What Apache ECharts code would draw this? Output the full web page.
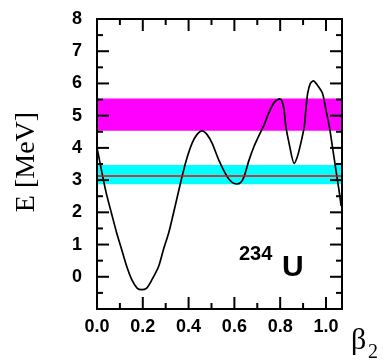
<!DOCTYPE html>
<html>
<head>
<meta charset="utf-8">
<script src="https://cdn.jsdelivr.net/npm/echarts@6/dist/echarts.min.js"></script>
<style>
  html, body { margin: 0; padding: 0; background: #ffffff; }
  #chart { width: 390px; height: 363px; }
</style>
</head>
<body>
<div id="chart"></div>
<script>
// Deformation parameter beta_2 and potential energy E (MeV) of 234U
const beta2 = [0.0, 0.01, 0.028, 0.042, 0.064, 0.086, 0.108, 0.13, 0.152, 0.175, 0.195, 0.217, 0.24, 0.269, 0.29, 0.313, 0.327, 0.35, 0.371, 0.39, 0.415, 0.437, 0.459, 0.48, 0.503, 0.532, 0.569, 0.59, 0.61, 0.628, 0.642, 0.664, 0.686, 0.705, 0.73, 0.751, 0.775, 0.798, 0.808, 0.817, 0.825, 0.839, 0.861, 0.876, 0.89, 0.905, 0.912, 0.92, 0.932, 0.945, 0.962, 0.985, 1.0, 1.015, 1.026, 1.037, 1.048, 1.059, 1.066];
const energy = [4.0, 3.65, 3.0, 2.55, 1.95, 1.36, 0.84, 0.32, -0.09, -0.35, -0.4, -0.35, -0.09, 0.32, 0.84, 1.36, 1.76, 2.46, 3.1, 3.62, 4.14, 4.42, 4.53, 4.42, 4.14, 3.62, 3.1, 2.93, 2.88, 2.93, 3.1, 3.62, 4.05, 4.35, 4.72, 5.1, 5.42, 5.52, 5.45, 5.17, 4.65, 4.14, 3.52, 3.75, 4.14, 4.65, 5.17, 5.69, 6.0, 6.08, 5.95, 5.69, 5.17, 4.65, 4.14, 3.62, 3.1, 2.59, 2.2];

// Energy bands and reference level (MeV)
const magentaBand = [4.53, 5.53];
const cyanBand = [2.87, 3.47];
const redLevel = [3.13];

// Axis ranges, tick positions and tick labels
const xRange = [0, 1.07];
const yRange = [-1, 8];
const xMajorTicks = [0.2, 0.4, 0.6, 0.8, 1.0];
const xMinorTicks = [0.1, 0.3, 0.5, 0.7, 0.9];
const yMajorTicks = [0, 1, 2, 3, 4, 5, 6, 7];
const yMinorTicks = [-0.5, 0.5, 1.5, 2.5, 3.5, 4.5, 5.5, 6.5, 7.5];
const xTickLabels = ['0.0', '0.2', '0.4', '0.6', '0.8', '1.0'];
const yTickLabels = ['0', '1', '2', '3', '4', '5', '6', '7', '8'];

const curve = beta2.map((b, i) => [b, energy[i]]);

const chart = echarts.init(document.getElementById('chart'), null, { renderer: 'canvas' });

const black = '#000000';
const labelFont = { color: black, fontFamily: 'Liberation Sans, Arial, sans-serif', fontWeight: 'bold', fontSize: 18 };

function xLabel(v) {
  const k = Math.round(v / 0.2);
  return Math.abs(v - k * 0.2) < 1e-6 ? (xTickLabels[k] || '') : '';
}
function yLabel(v) {
  const k = Math.round(v);
  return Math.abs(v - k) < 1e-6 && k >= 0 ? (yTickLabels[k] || '') : '';
}

const textGraphics = [
  { type: 'text', x: 27, y: 162, rotation: Math.PI / 2,
    style: { text: 'E [MeV]', font: '28px "Liberation Serif", "Times New Roman", serif', fill: black, align: 'center', verticalAlign: 'middle' } },
  { type: 'text', x: 351, y: 356,
    style: { text: 'β', font: '30px "Liberation Serif", "Times New Roman", serif', fill: black, align: 'left', verticalAlign: 'bottom' } },
  { type: 'text', x: 368, y: 363,
    style: { text: '2', font: '20px "Liberation Serif", "Times New Roman", serif', fill: black, align: 'left', verticalAlign: 'bottom' } },
  { type: 'text', x: 239, y: 264,
    style: { text: '234', font: 'bold 20px "Liberation Sans", Arial, sans-serif', fill: black, align: 'left', verticalAlign: 'bottom' } },
  { type: 'text', x: 282, y: 283,
    style: { text: 'U', font: 'bold 30px "Liberation Sans", Arial, sans-serif', fill: black, align: 'left', verticalAlign: 'bottom' } }
];

const option = {
  animation: false,
  backgroundColor: '#ffffff',
  grid: { show: false, left: 97, top: 19, width: 245, height: 290 },
  xAxis: {
    type: 'value', min: xRange[0], max: xRange[1], interval: 0.2,
    splitLine: { show: false }, axisLine: { show: false }, axisTick: { show: false },
    axisLabel: Object.assign({ show: true, margin: 9, formatter: xLabel }, labelFont)
  },
  yAxis: {
    type: 'value', min: yRange[0], max: yRange[1], interval: 1,
    splitLine: { show: false }, axisLine: { show: false }, axisTick: { show: false },
    axisLabel: Object.assign({ show: true, margin: 15, formatter: yLabel }, labelFont)
  },
  graphic: textGraphics,
  series: [
    {
      name: '234U', type: 'line', z: 3,
      data: curve, showSymbol: false, smooth: 0.25, clip: true,
      lineStyle: { color: black, width: 1.7 },
      markArea: {
        silent: true,
        label: { show: false },
        data: [
          [{ yAxis: magentaBand[0], itemStyle: { color: '#ff00ff' } }, { yAxis: magentaBand[1] }],
          [{ yAxis: cyanBand[0], itemStyle: { color: '#00ffff' } }, { yAxis: cyanBand[1] }]
        ]
      },
      markLine: {
        silent: true, symbol: 'none', label: { show: false },
        lineStyle: { color: '#ff0000', width: 1.5, type: 'solid' },
        data: [{ yAxis: redLevel[0] }]
      }
    }
  ]
};

chart.setOption(option);

// Frame and inward ticks as filled bars, placed through the grid's own scales
function toPx(x, y) { return chart.convertToPixel({ gridIndex: 0 }, [x, y]); }
function bar(x0, y0, x1, y1) {
  const l = Math.min(x0, x1), r = Math.max(x0, x1), t = Math.min(y0, y1), b = Math.max(y0, y1);
  return { type: 'polygon', z: 100, silent: true,
    shape: { points: [[l, t], [r, t], [r, b], [l, b]] },
    style: { fill: black } };
}
const w = 1; // half thickness of frame and tick strokes
const tl = toPx(xRange[0], yRange[1]);
const br = toPx(xRange[1], yRange[0]);
const frameGraphics = [
  bar(tl[0] - w, tl[1] - w, br[0] + w, tl[1] + w),
  bar(tl[0] - w, br[1] - w, br[0] + w, br[1] + w),
  bar(tl[0] - w, tl[1] - w, tl[0] + w, br[1] + w),
  bar(br[0] - w, tl[1] - w, br[0] + w, br[1] + w)
];
[[xMajorTicks, 12], [xMinorTicks, 6]].forEach(([vals, len]) => {
  vals.forEach(v => {
    const x = toPx(v, yRange[0])[0];
    frameGraphics.push(bar(x - w, br[1], x + w, br[1] - len));
    frameGraphics.push(bar(x - w, tl[1], x + w, tl[1] + len));
  });
});
[[yMajorTicks, 12], [yMinorTicks, 6]].forEach(([vals, len]) => {
  vals.forEach(v => {
    const y = toPx(xRange[0], v)[1];
    frameGraphics.push(bar(tl[0], y - w, tl[0] + len, y + w));
    frameGraphics.push(bar(br[0], y - w, br[0] - len, y + w));
  });
});
chart.setOption({ graphic: textGraphics.concat(frameGraphics) });
</script>
</body>
</html>
